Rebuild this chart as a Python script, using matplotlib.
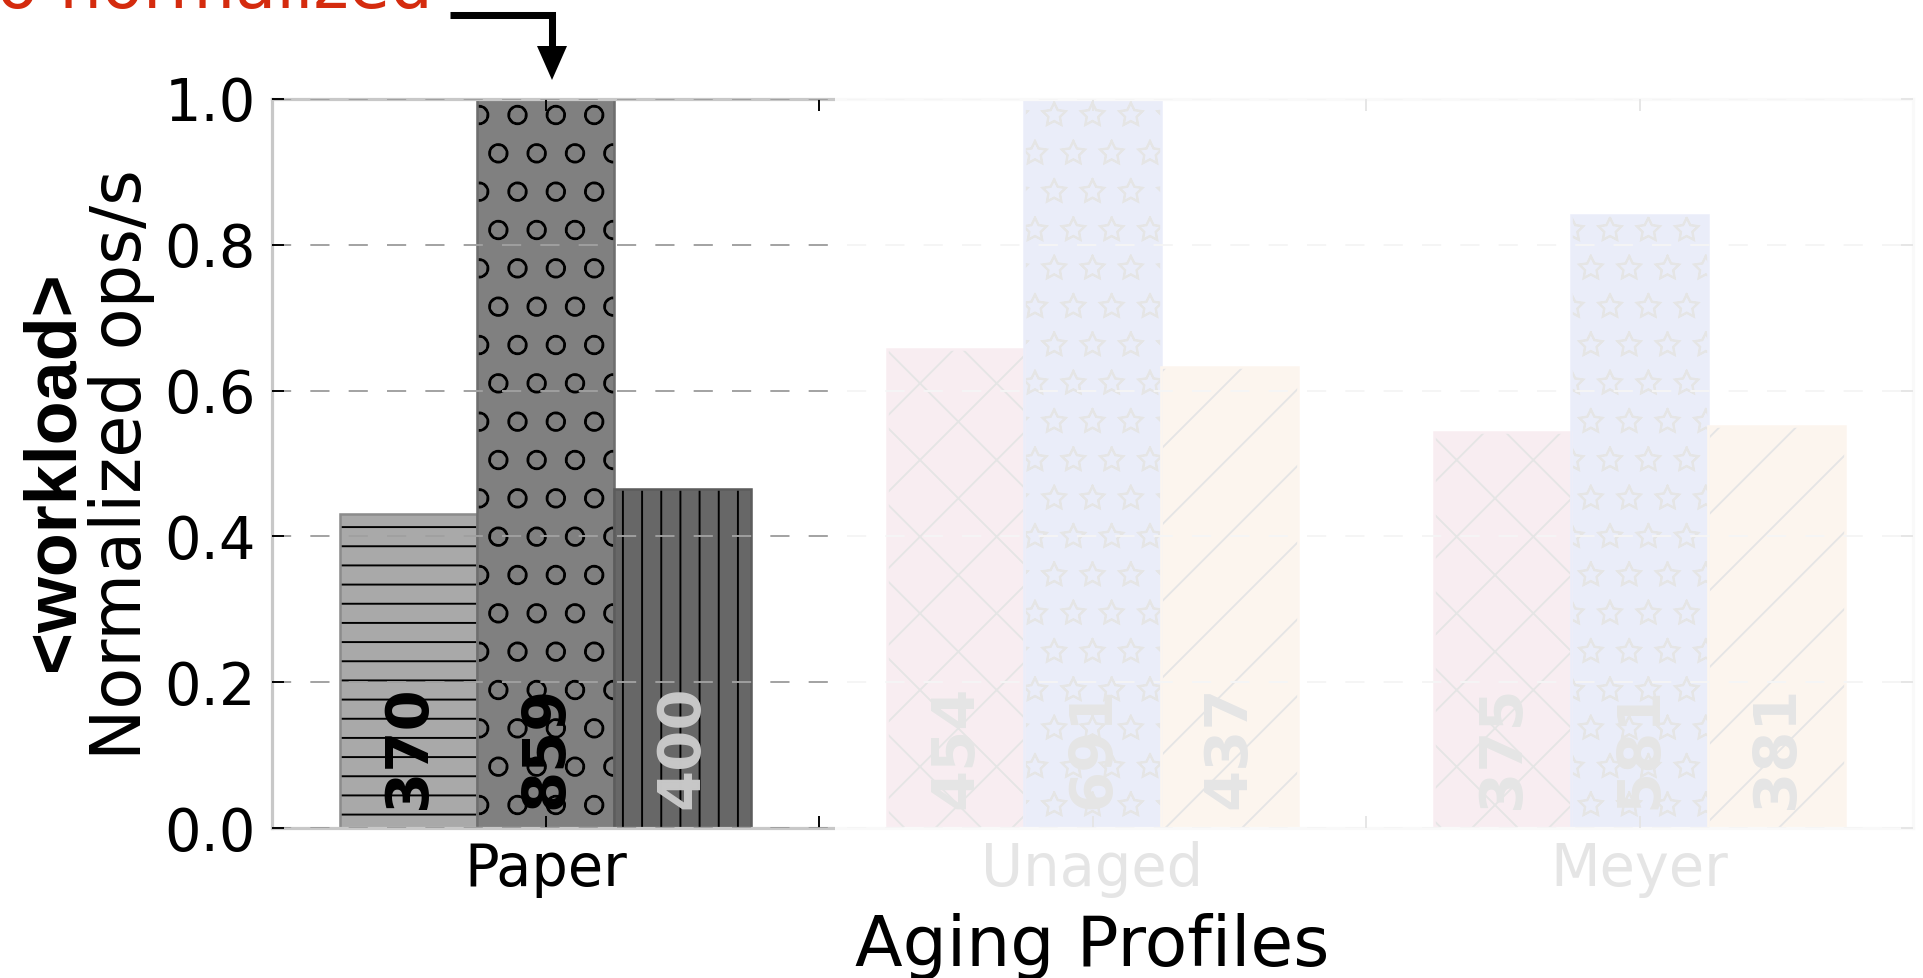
import numpy as np
import matplotlib
matplotlib.use("Agg")
import matplotlib.pyplot as plt
import matplotlib.hatch as mhatch
from matplotlib.patches import Rectangle, Polygon
from matplotlib.lines import Line2D

# Aging profiles on the x axis
profiles = ["Paper", "Unaged", "Meyer"]

# Raw throughput (ops/s) of the three configurations per aging profile
ops_first = [370, 454, 375]
ops_second = [859, 691, 581]
ops_third = [400, 437, 381]

# Throughput each profile is normalized against
reference_ops = [859, 691, 691]

DPI = 230
W, H = 1923, 978

plt.rcParams.update({
    "font.family": ["DejaVu Sans"],
    "hatch.linewidth": 0.6,
    "lines.scale_dashes": False,
})
# outlined rather than solid stars, slightly larger circles
mhatch.Stars.filled = False
mhatch.SmallCircles.size = 0.24

fig = plt.figure(figsize=(W / DPI, H / DPI), dpi=DPI)
ax = fig.add_axes([272 / W, 1 - 828 / H, (1913 - 272) / W, (828 - 99) / H])

x = np.arange(len(profiles))
width = 0.25
offsets = [-width, 0.0, width]
series = [ops_first, ops_second, ops_third]

gray_face = ["#a9a9a9", "#808080", "#676767"]
gray_edge = ["#8c8c8c", "#6e6e6e", "#5c5c5c"]
gray_hatch = ["--", "o", "||"]
gray_label = ["black", "black", "#c8c8c8"]
color_face = ["#c3557d", "#3755cd", "#eba55f"]
color_hatch = ["x", "*", "/"]

ref = np.array(reference_ops, dtype=float)
for s, (vals, off) in enumerate(zip(series, offsets)):
    heights = np.array(vals, dtype=float) / ref
    for g in range(len(profiles)):
        if g == 0:
            face, hatch, edge, lc = gray_face[s], gray_hatch[s], gray_edge[s], gray_label[s]
        else:
            face, hatch, edge, lc = color_face[s], color_hatch[s], color_face[s], "black"
        ax.bar(x[g] + off, heights[g], width, color=face, edgecolor="black",
               hatch=hatch, linewidth=0, zorder=2)
        ax.bar(x[g] + off, heights[g], width, facecolor="none", edgecolor=edge,
               linewidth=0.8, zorder=2.1)
        ax.text(x[g] + off, 0.026, str(vals[g]), rotation=90, ha="center",
                va="bottom", fontsize=18.5, fontweight="bold", color=lc, zorder=3)

ax.set_xlim(-0.5, 2.5)
ax.set_ylim(0, 1.0)
ax.set_yticks(np.arange(0, 1.01, 0.2))
ax.set_xticks([0, 0.5, 1, 1.5, 2])
ax.set_xticklabels(["Paper", "", "Unaged", "", "Meyer"])
ax.tick_params(direction="in", top=True, right=True, length=3.75, width=0.6,
               color="black", labelsize=18)
ax.tick_params(axis="x", pad=4.2)
ax.tick_params(axis="y", pad=5)

ax.yaxis.grid(True, color="#a0a0a0", linestyle=(0, (6, 6)), linewidth=0.6)
ax.set_axisbelow(False)
for sp in ax.spines.values():
    sp.set_color("#c8c8c8")
    sp.set_linewidth(1.0)

ax.set_xlabel("Aging Profiles", fontsize=21.8)
ax.xaxis.label.set_va("baseline")
ax.xaxis.set_label_coords(0.5, (828 - 966) / 729)

fig.text(141 / W, 1 - 465 / H, "Normalized ops/s", rotation=90,
         rotation_mode="anchor", ha="center", va="baseline", fontsize=21.5)
fig.text(74 / W, 1 - 471 / H, "<workload>", rotation=90, rotation_mode="anchor",
         ha="center", va="baseline", fontsize=22.5, fontweight="bold",
         family=["Liberation Sans", "DejaVu Sans"])

# callout text and arrow pointing at the reference bar
fig.text(433 / W, 1 - 8 / H, "o normalized", color="#d42b0e", fontsize=21,
         ha="right", va="baseline")
fig.add_artist(Line2D([450 / W, 552 / W, 552 / W], [1 - 15 / H, 1 - 15 / H, 1 - 48 / H],
                      transform=fig.transFigure, color="black", linewidth=2.2,
                      solid_joinstyle="miter", solid_capstyle="butt"))
fig.add_artist(Polygon([[537 / W, 1 - 46 / H], [567 / W, 1 - 46 / H], [552 / W, 1 - 80 / H]],
                       closed=True, transform=fig.transFigure, facecolor="black",
                       edgecolor="none"))

# wash out the profiles that are not in focus
fig.add_artist(Rectangle((835 / W, 1 - 905 / H), 1 - 835 / W, 905 / H,
                         transform=fig.transFigure, facecolor="white", alpha=0.9,
                         edgecolor="none", zorder=10))

fig.savefig("out.png", dpi=DPI)
